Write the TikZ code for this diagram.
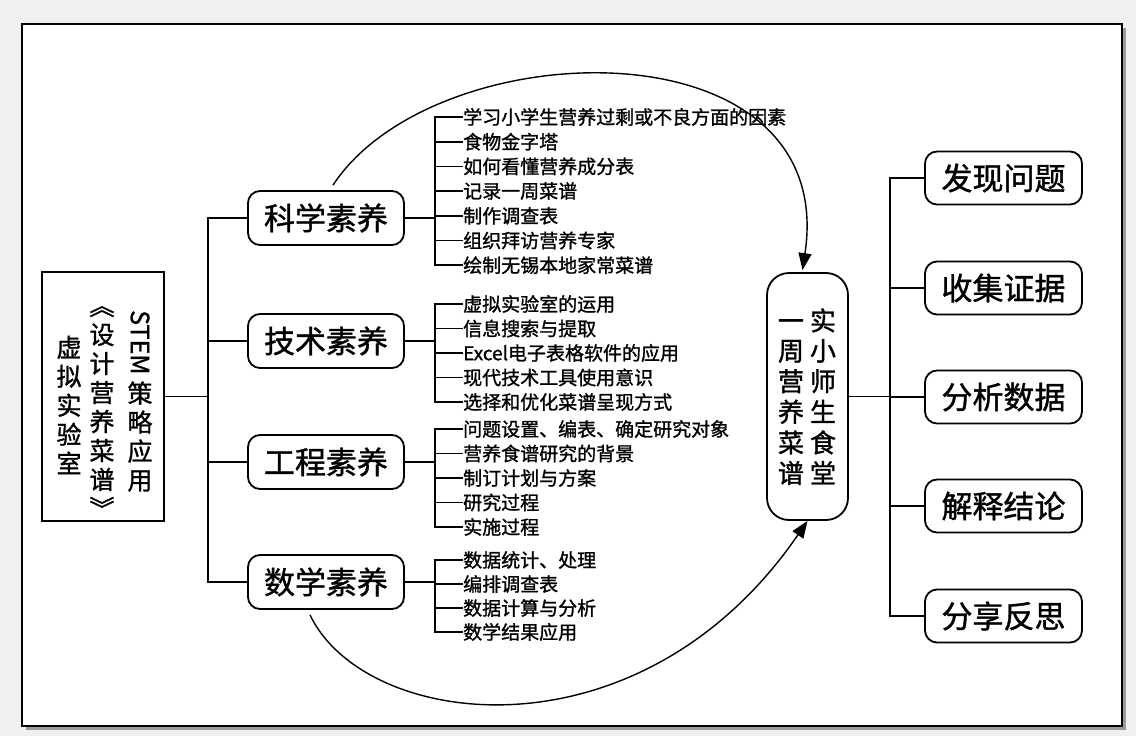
\documentclass[tikz,border=0pt]{standalone}
\usepackage{fontspec}
\setmainfont{Noto Sans CJK SC}[FakeBold=1.2]
\usepackage{graphicx}
\usetikzlibrary{arrows.meta}
\definecolor{bggray}{HTML}{F0F0F0}
\definecolor{shadowgray}{HTML}{9A9A9A}
\tikzset{
  catbox/.style={draw, line width=1.8pt, rounded corners=12pt, fill=white,
    minimum width=156pt, minimum height=54pt, inner sep=0pt,
    font=\fontsize{31}{31}\selectfont},
  stepbox/.style={draw, line width=1.8pt, rounded corners=12pt, fill=white,
    minimum width=157pt, minimum height=53pt, inner sep=0pt,
    font=\fontsize{31}{31}\selectfont},
  itemtext/.style={anchor=west, inner sep=0pt, font=\fontsize{19}{19}\selectfont},
  coltext/.style={inner sep=0pt, align=center, font=\fontsize{25}{29}\selectfont},
  conn/.style={line width=1.6pt},
  curvearrow/.style={line width=1.4pt, -{Triangle[length=17pt,width=13pt]}},
}
\begin{document}
\begin{tikzpicture}[x=1pt,y=-1pt]
\fill[bggray] (0,0) rectangle (1136,736);
\useasboundingbox (0,0) rectangle (1136,736);
% frame
\fill[shadowgray] (26,28) rectangle (1126,730);
\draw[line width=2pt, fill=white] (22,24) rectangle (1122,726);

% coordinates of vertical bus lines
\coordinate (mv) at (208,0);
\coordinate (br) at (435,0);
\coordinate (rv) at (890,0);

% left box
\node[draw, line width=1.8pt, minimum width=122pt, minimum height=249pt, inner sep=0pt] (stem) at (103,396.5) {};
\node[coltext] (colA) at (140,401) {\rotatebox{-90}{STEM}\\[6pt]策\\略\\应\\用};
\node[coltext] (colB) at (102,407) {\rotatebox[origin=c]{-90}{《}\\设\\计\\营\\养\\菜\\谱\\\rotatebox[origin=c]{-90}{》}};
\node[coltext] (colC) at (69,405) {虚\\拟\\实\\验\\室};

% categories
\node[catbox] (sci) at (326,218) {科学素养};
\node[catbox] (tech) at (326,341) {技术素养};
\node[catbox] (eng) at (326,462) {工程素养};
\node[catbox] (math) at (326,582) {数学素养};

% main bus
\draw[conn] (stem.east) -- (stem.east -| mv);
\draw[conn] (sci.west) -- (sci.west -| mv) -- (math.west -| mv) -- (math.west);
\draw[conn] (tech.west) -- (tech.west -| mv);
\draw[conn] (eng.west) -- (eng.west -| mv);

% science items
\node[itemtext] (s1) at (463,117) {学习小学生营养过剩或不良方面的因素};
\node[itemtext] (s2) at (463,141.7) {食物金字塔};
\node[itemtext] (s3) at (463,166.4) {如何看懂营养成分表};
\node[itemtext] (s4) at (463,191) {记录一周菜谱};
\node[itemtext] (s5) at (463,215.8) {制作调查表};
\node[itemtext] (s6) at (463,240.5) {组织拜访营养专家};
\node[itemtext] (s7) at (463,265.2) {绘制无锡本地家常菜谱};
\draw[conn] (sci.east) -- (sci.east -| br);
\draw[conn] (s1.west) -- (s1.west -| br) -- (s7.west -| br) -- (s7.west);
\foreach \i in {2,...,6} { \draw[conn] (s\i.west) -- (s\i.west -| br); }

% technology items
\node[itemtext] (t1) at (463,304) {虚拟实验室的运用};
\node[itemtext] (t2) at (463,328.5) {信息搜索与提取};
\node[itemtext] (t3) at (463,353) {Excel电子表格软件的应用};
\node[itemtext] (t4) at (463,377.5) {现代技术工具使用意识};
\node[itemtext] (t5) at (463,402) {选择和优化菜谱呈现方式};
\draw[conn] (tech.east) -- (tech.east -| br);
\draw[conn] (t1.west) -- (t1.west -| br) -- (t5.west -| br) -- (t5.west);
\foreach \i in {2,...,4} { \draw[conn] (t\i.west) -- (t\i.west -| br); }

% engineering items
\node[itemtext] (e1) at (463,429) {问题设置、编表、确定研究对象};
\node[itemtext] (e2) at (463,453.5) {营养食谱研究的背景};
\node[itemtext] (e3) at (463,478) {制订计划与方案};
\node[itemtext] (e4) at (463,502.5) {研究过程};
\node[itemtext] (e5) at (463,527) {实施过程};
\draw[conn] (eng.east) -- (eng.east -| br);
\draw[conn] (e1.west) -- (e1.west -| br) -- (e5.west -| br) -- (e5.west);
\foreach \i in {2,...,4} { \draw[conn] (e\i.west) -- (e\i.west -| br); }

% math items
\node[itemtext] (m1) at (463,560) {数据统计、处理};
\node[itemtext] (m2) at (463,584) {编排调查表};
\node[itemtext] (m3) at (463,608) {数据计算与分析};
\node[itemtext] (m4) at (463,632) {数学结果应用};
\draw[conn] (math.east) -- (math.east -| br);
\draw[conn] (m1.west) -- (m1.west -| br) -- (m4.west -| br) -- (m4.west);
\foreach \i in {2,3} { \draw[conn] (m\i.west) -- (m\i.west -| br); }

% central node
\node[draw, line width=1.8pt, rounded corners=22pt, fill=white, minimum width=81pt, minimum height=247pt, inner sep=0pt] (ctr) at (807.5,396.5) {};
\node[inner sep=0pt, font=\fontsize{26}{28.8}\selectfont] (ctrtext) at (807,400)
  {\begin{tabular}{@{}c@{\hspace{6pt}}c@{}}一&实\\周&小\\营&师\\养&生\\菜&食\\谱&堂\end{tabular}};

% right steps
\node[stepbox] (r1) at (1003.5,178) {发现问题};
\node[stepbox] (r2) at (1003.5,288) {收集证据};
\node[stepbox] (r3) at (1003.5,397) {分析数据};
\node[stepbox] (r4) at (1003.5,506) {解释结论};
\node[stepbox] (r5) at (1003.5,616) {分享反思};
\draw[conn] (ctr.east) -- (ctr.east -| rv);
\draw[conn] (r1.west) -- (r1.west -| rv) -- (r5.west -| rv) -- (r5.west);
\foreach \i in {2,3,4} { \draw[conn] (r\i.west) -- (r\i.west -| rv); }

% curved arrows
\draw[curvearrow] ([xshift=7pt,yshift=5pt]sci.north) .. controls (435,30) and (840,20) .. ([xshift=-5pt,yshift=2pt]ctr.north);
\draw[curvearrow] ([xshift=-16pt,yshift=-5pt]math.south) .. controls (365,730) and (640,765) .. (ctr.south);
\end{tikzpicture}
\end{document}
